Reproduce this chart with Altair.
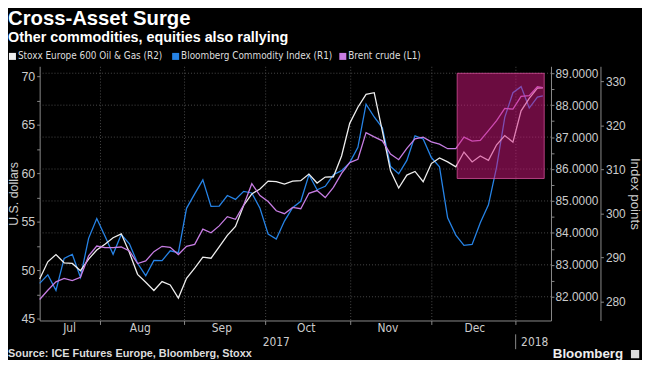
import altair as alt
import pandas as pd

# ---------------- data ----------------
dates = list(pd.date_range("2017-07-10", periods=62, freq="3D").strftime("%Y-%m-%d")) + ["2018-01-11"]

brent = [46.97, 47.92, 48.78, 49.15, 48.91, 49.25, 51.46, 52.48, 52.31, 52.31,
         52.38, 51.97, 50.68, 50.95, 51.90, 52.45, 52.35, 51.60, 52.45, 52.65,
         54.22, 53.84, 54.56, 55.51, 55.24, 56.70, 58.91, 57.69, 57.07, 56.12,
         55.82, 56.46, 56.33, 57.92, 58.20, 57.48, 58.54, 59.97, 61.09, 61.43,
         64.18, 63.74, 63.33, 61.97, 61.39, 62.55, 63.54, 63.71, 63.23, 62.99,
         62.52, 62.52, 63.71, 63.30, 63.37, 64.39, 65.41, 66.67, 66.60, 67.92,
         67.99, 68.91, 68.81]

stoxx = [285.15, 289.04, 290.68, 288.82, 288.67, 287.02, 289.64, 291.73, 293.00, 294.50,
         295.39, 291.13, 286.20, 284.41, 282.54, 284.56, 283.81, 280.82, 285.30, 287.62,
         290.09, 289.86, 292.40, 295.02, 297.04, 301.82, 304.44, 305.56, 307.35, 307.20,
         306.68, 307.35, 307.43, 308.92, 306.90, 308.25, 308.32, 313.03, 320.43, 324.09,
         327.01, 327.38, 318.64, 309.67, 305.78, 308.70, 309.52, 307.20, 311.31, 312.58,
         311.69, 310.56, 313.93, 311.69, 313.03, 312.06, 315.57, 317.66, 316.17, 323.27,
         326.11, 328.43, 328.50]

bcom = [82.42, 82.69, 82.20, 83.20, 83.33, 82.61, 83.83, 84.45, 83.90, 83.33,
        83.95, 83.66, 83.05, 82.66, 83.14, 83.13, 83.44, 83.38, 84.77, 85.22,
        85.66, 84.83, 84.84, 85.17, 85.05, 85.30, 85.25, 84.77, 83.96, 83.81,
        84.37, 84.79, 84.99, 85.82, 85.35, 85.46, 85.82, 85.95, 86.20, 86.68,
        88.03, 87.63, 87.29, 86.08, 85.85, 86.27, 87.04, 86.94, 86.36, 86.07,
        84.47, 83.93, 83.61, 83.64, 84.32, 84.88, 86.06, 87.62, 88.39, 88.58,
        87.91, 88.25, 88.29]

series_names = ["Stoxx Europe 600 Oil & Gas (R2)", "Bloomberg Commodity Index (R1)", "Brent crude (L1)"]
series_colors = ["#eeeeee", "#2683e6", "#c77de3"]

month_labels = ["Jul", "Aug", "Sep", "Oct", "Nov", "Dec"]
month_centers = ["2017-07-21", "2017-08-16", "2017-09-15", "2017-10-16", "2017-11-15", "2017-12-17"]
month_starts = ["2017-08-01", "2017-09-01", "2017-10-01", "2017-11-01", "2017-12-01", "2018-01-01"]
year_labels = ["2017", "2018"]
year_centers = ["2017-10-05", "2018-01-08"]
year_break = ["2018-01-01"]

bcom_gridlines = [82, 83, 84, 85, 86, 87, 88, 89]
bcom_ticks = [82.0, 82.5, 83.0, 83.5, 84.0, 84.5, 85.0, 85.5, 86.0, 86.5, 87.0, 87.5, 88.0, 88.5, 89.0]
brent_ticks = [45, 47.5, 50, 52.5, 55, 57.5, 60, 62.5, 65, 67.5, 70]
stoxx_ticks = [280, 290, 300, 310, 320, 330]

box_start, box_end = ["2017-12-10T12:00:00Z"], ["2018-01-11T12:00:00Z"]
box_high, box_low = [70.3], [59.45]

# ---------------- layout / style ----------------
W, H = 517, 257
PAD_L = 32
FONT = "Liberation Sans, Arial, sans-serif"
NARROW = "DejaVu Sans Condensed, Liberation Sans Narrow, Arial Narrow, Liberation Sans, sans-serif"
GRID = "#4a4a4a"
legend_item_x = [-PAD_L + 1, 134, 303]   # left edge of each legend swatch (layout)
LEGEND_Y = -10


def dt(s):
    y, m, d = (int(v) for v in s.split("-"))
    return alt.DateTime(year=y, month=m, date=d, utc=True)


df = pd.DataFrame({"date": dates, "brent": brent, "stoxx": stoxx, "bcom": bcom})

x_enc = alt.X(
    "date:T",
    scale=alt.Scale(domain=[dt("2017-07-10"), dt("2018-01-14")]),
    axis=alt.Axis(values=[dt(s) for s in month_starts], labels=False, title=None,
                  grid=True, gridColor=GRID, gridDash=[1, 2], tickSize=4,
                  tickColor="#8a8a8a", domainColor="#8a8a8a"),
)

color_enc = alt.Color("series:N", scale=alt.Scale(domain=series_names, range=series_colors),
                      legend=None)

bcom_y = alt.Y("bcom:Q", scale=alt.Scale(domain=[81.257, 89.217], nice=False, zero=False),
               axis=alt.Axis(orient="right", values=bcom_ticks, grid=False, title=None,
                             labelExpr="datum.value % 1 == 0 ? format(datum.value, '.4f') : ''",
                             tickSize=3, labelPadding=1))
stoxx_y = alt.Y("stoxx:Q", scale=alt.Scale(domain=[275.74, 333.36], nice=False, zero=False),
                axis=alt.Axis(orient="right", offset=50, values=stoxx_ticks, grid=False,
                              title="Index points", titleAngle=90, titleFontSize=13.5,
                              tickSize=3, labelPadding=2, titlePadding=2))
brent_y = alt.Y("brent:Q", scale=alt.Scale(domain=[44.80, 71.02], nice=False, zero=False),
                axis=alt.Axis(orient="left", values=brent_ticks, grid=False,
                              title="U.S. dollars", titleFontSize=12.5,
                              labelExpr="datum.value % 5 == 0 ? datum.label : ''",
                              labelFontSize=12.5, tickSize=3, labelPadding=2, titlePadding=0))

grid_rules = alt.Chart(pd.DataFrame({"bcom": bcom_gridlines})).mark_rule(
    color=GRID, strokeDash=[1, 2]).encode(y=bcom_y)
bcom_line = (alt.Chart(df).transform_calculate(series=f"'{series_names[1]}'")
             .mark_line(strokeWidth=1.3).encode(x=x_enc, y=bcom_y, color=color_enc))
stoxx_line = (alt.Chart(df).transform_calculate(series=f"'{series_names[0]}'")
              .mark_line(strokeWidth=1.3).encode(x=x_enc, y=stoxx_y, color=color_enc))
brent_line = (alt.Chart(df).transform_calculate(series=f"'{series_names[2]}'")
              .mark_line(strokeWidth=1.3).encode(x=x_enc, y=brent_y, color=color_enc))

box = alt.Chart(pd.DataFrame({"date": box_start, "date_end": box_end,
                              "brent": box_high, "brent_low": box_low})).mark_rect(
    fill="#d6177f", fillOpacity=0.5, stroke="#e85aa8", strokeOpacity=0.7, strokeWidth=1
).encode(x=x_enc, x2="date_end:T", y=brent_y, y2="brent_low:Q")

bcom_layer = alt.layer(grid_rules, bcom_line)
brent_layer = alt.layer(brent_line, box)

# legend (one swatch + label per series)
legend_parts = []
for name, colr, lx in zip(series_names, series_colors, legend_item_x):
    ldf = pd.DataFrame({"t": [name]})
    legend_parts.append(alt.Chart(ldf).mark_square(size=50, color=colr, opacity=1).encode(
        x=alt.value(lx + 3.5), y=alt.value(LEGEND_Y)))
    legend_parts.append(alt.Chart(ldf).mark_text(
        font=NARROW, fontSize=10, color="#dddddd", align="left", baseline="middle"
    ).encode(x=alt.value(lx + 9), y=alt.value(LEGEND_Y), text="t:N"))

months = alt.Chart(pd.DataFrame({"date": month_centers, "label": month_labels})).mark_text(
    font=NARROW, fontSize=12, color="#cccccc", baseline="middle"
).encode(x=x_enc, y=alt.value(H + 8), text="label:N")

years = alt.Chart(pd.DataFrame({"date": year_centers, "label": year_labels})).mark_text(
    font=NARROW, fontSize=12, color="#cccccc", baseline="middle"
).encode(x=x_enc, y=alt.value(H + 22), text="label:N")

year_sep = alt.Chart(pd.DataFrame({"date": year_break})).mark_rule(color="#8a8a8a").encode(
    x=x_enc, y=alt.value(H + 14), y2=alt.value(H + 29))

source = alt.Chart(pd.DataFrame({"t": ["Source: ICE Futures Europe, Bloomberg, Stoxx"]})).mark_text(
    font=FONT, fontSize=11, fontWeight="bold", color="#dddddd", align="left", baseline="middle"
).encode(x=alt.value(-PAD_L), y=alt.value(H + 34), text="t:N")

brand = alt.Chart(pd.DataFrame({"t": ["Bloomberg"]})).mark_text(
    font=FONT, fontSize=13.5, fontWeight="bold", color="#eeeeee", align="right", baseline="middle"
).encode(x=alt.value(W + 73), y=alt.value(H + 34), text="t:N")

brand_icon = alt.Chart(pd.DataFrame({"t": ["icon"]})).mark_square(
    size=70, color="#dddddd", opacity=1
).encode(x=alt.value(W + 85), y=alt.value(H + 34))

chart = alt.layer(
    bcom_layer, stoxx_line, brent_layer, months, years, year_sep, source, brand, brand_icon,
    *legend_parts
).resolve_scale(y="independent").properties(
    width=W, height=H,
    padding={"left": PAD_L, "top": 57, "right": 92, "bottom": 38},
    autosize=alt.AutoSizeParams(type="none"),
    title=alt.TitleParams(
        text="Cross-Asset Surge", subtitle="Other commodities, equities also rallying",
        anchor="start", frame="group", dx=-PAD_L, offset=7,
        font=FONT, fontSize=20.5, fontWeight="bold", color="#ffffff",
        subtitleFont=FONT, subtitleFontSize=14.5, subtitleFontWeight="bold",
        subtitleColor="#ffffff", subtitlePadding=2,
    ),
).configure(background="#000000").configure_view(stroke=None).configure_axis(
    labelFont=FONT, labelFontSize=12, labelColor="#cccccc",
    titleFont=FONT, titleFontWeight="normal", titleColor="#cccccc",
    domainColor="#8a8a8a", tickColor="#8a8a8a",
)

chart.save("out.html", embed_options={"renderer": "svg", "actions": False})
